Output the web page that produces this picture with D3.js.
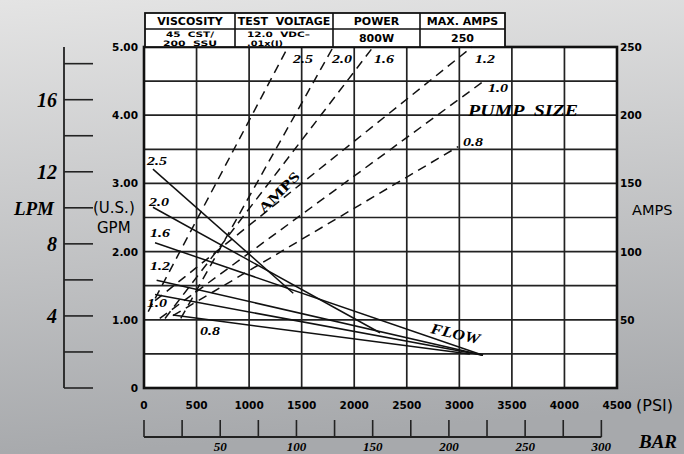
<!DOCTYPE html>
<html>
<head>
<meta charset="utf-8">
<script src="https://cdn.jsdelivr.net/npm/d3@7"></script>
<style>
  body { margin: 0; }
  svg { display: block; }
</style>
</head>
<body>
<div id="chart"></div>
<script>
/* Pump performance chart: flow (GPM) and current (AMPS) against pressure (PSI) */

// one flow line and one amps line per pump size
var pumpSizes = ["2.5", "2.0", "1.6", "1.2", "1.0", "0.8"];

// flow lines, PSI -> GPM
var flowStartPsi = [85, 85, 105, 120, 105, 275];
var flowStartGpm = [3.21, 2.65, 2.13, 1.58, 1.37, 1.07];
var flowEndPsi   = [1420, 2245, 3225, 3225, 3225, 3100];
var flowEndGpm   = [1.39, 0.81, 0.48, 0.48, 0.48, 0.50];

// amps lines (dashed), PSI -> AMPS
var ampStartPsi  = [40, 350, 200, 105, 150, 275];
var ampStartAmps = [56, 51, 51, 64, 51, 53];
var ampEndPsi    = [1370, 1800, 2180, 3120, 3215, 2990];
var ampEndAmps   = [250, 250, 250, 250, 224, 177];

// axes
var psiTicks = d3.range(0, 4501, 500);
var gpmGrid = d3.range(0, 5.01, 0.5);
var gpmTicks = [0, 1, 2, 3, 4, 5];
var gpmLabels = ["0", "1.00", "2.00", "3.00", "4.00", "5.00"];
var ampTicks = [50, 100, 150, 200, 250];
var lpmTicks = d3.range(0, 19, 2);
var lpmLabels = [4, 8, 12, 16];
var barTicks = d3.range(0, 301, 25);
var barLabels = [50, 100, 150, 200, 250, 300];

// spec table
var tableHead = ["VISCOSITY", "TEST  VOLTAGE", "POWER", "MAX. AMPS"];
var tableRow = [["45  CST/", "200  SSU"], ["12.0  VDC\u2013", ".01x(I)"], ["800W"], ["250"]];

var width = 684, height = 454;
var serif = "'Liberation Serif', 'Times New Roman', serif";
var sans = "'DejaVu Sans', sans-serif";

var svg = d3.select("#chart")
    .append("svg")
    .attr("width", width)
    .attr("height", height);

// grey gradient background
var grad = svg.append("defs").append("linearGradient")
    .attr("id", "bg")
    .attr("x1", 0).attr("y1", 0).attr("x2", 0.12).attr("y2", 1);
grad.append("stop").attr("offset", "0%").attr("stop-color", "#e4e4e4");
grad.append("stop").attr("offset", "100%").attr("stop-color", "#a7a9ac");
svg.append("rect").attr("width", width).attr("height", height).attr("fill", "url(#bg)");

// scales
var x = d3.scaleLinear().domain([0, 4500]).range([144, 617]);
var y = d3.scaleLinear().domain([0, 5]).range([388, 47]);
var yAmps = d3.scaleLinear().domain([0, 250]).range([388, 47]);
var yLpm = d3.scaleLinear().domain([0, 5 * 3.785]).range([388, 47]);
var xBar = d3.scaleLinear().domain([0, 300]).range([x(0), x(300 * 14.5038)]);

// plot area + grid
svg.append("rect")
    .attr("x", x(0)).attr("y", y(5))
    .attr("width", x(4500) - x(0)).attr("height", y(0) - y(5))
    .attr("fill", "#fff");

svg.append("g").selectAll("line")
    .data(psiTicks)
    .enter().append("line")
    .attr("x1", function(d) { return x(d); })
    .attr("x2", function(d) { return x(d); })
    .attr("y1", y(0)).attr("y2", y(5))
    .attr("stroke", "#222").attr("stroke-width", 1.7);

svg.append("g").selectAll("line")
    .data(gpmGrid)
    .enter().append("line")
    .attr("x1", x(0)).attr("x2", x(4500))
    .attr("y1", function(d) { return y(d); })
    .attr("y2", function(d) { return y(d); })
    .attr("stroke", "#222").attr("stroke-width", 1.7);

svg.append("rect")
    .attr("x", x(0)).attr("y", y(5))
    .attr("width", x(4500) - x(0)).attr("height", y(0) - y(5))
    .attr("fill", "none").attr("stroke", "#111").attr("stroke-width", 2.6);

// table on top
var colX = [145, 235, 333, 420, 505];
var rowY = [13, 29, y(5)];
var table = svg.append("g");
table.append("rect")
    .attr("x", colX[0]).attr("y", rowY[0])
    .attr("width", colX[4] - colX[0]).attr("height", rowY[2] - rowY[0])
    .attr("fill", "#fff").attr("stroke", "#111").attr("stroke-width", 1.8);
table.append("line")
    .attr("x1", colX[0]).attr("x2", colX[4]).attr("y1", rowY[1]).attr("y2", rowY[1])
    .attr("stroke", "#111").attr("stroke-width", 1.6);
table.selectAll(".col")
    .data(colX.slice(1, 4))
    .enter().append("line")
    .attr("x1", function(d) { return d; }).attr("x2", function(d) { return d; })
    .attr("y1", rowY[0]).attr("y2", rowY[2])
    .attr("stroke", "#111").attr("stroke-width", 1.6);
table.selectAll(".head")
    .data(tableHead)
    .enter().append("text")
    .attr("x", function(d, i) { return (colX[i] + colX[i + 1]) / 2; })
    .attr("y", 25)
    .attr("text-anchor", "middle")
    .style("font-family", sans).style("font-weight", "bold").style("font-size", "11px")
    .style("white-space", "pre")
    .text(function(d) { return d; });

// second row; the two-line cells are squeezed tight like the original
var cellWidths = [[48, 54], [63, 36]];
tableRow.forEach(function(lines, i) {
    var cx = (colX[i] + colX[i + 1]) / 2;
    var anchor = "middle";
    if (i == 1) { cx = 247; anchor = "start"; }
    lines.forEach(function(s, j) {
        var t = table.append("text")
            .attr("x", cx)
            .attr("y", lines.length == 1 ? 42 : 36.5 + j * 9)
            .attr("text-anchor", anchor)
            .style("font-family", sans).style("font-weight", "bold")
            .style("font-size", lines.length == 1 ? "11px" : "7.5px")
            .style("white-space", "pre")
            .text(s);
        if (lines.length > 1) {
            t.attr("textLength", cellWidths[i][j]).attr("lengthAdjust", "spacingAndGlyphs");
        }
    });
});

// flow lines (solid)
svg.append("g").selectAll("line")
    .data(pumpSizes)
    .enter().append("line")
    .attr("x1", function(d, i) { return x(flowStartPsi[i]); })
    .attr("y1", function(d, i) { return y(flowStartGpm[i]); })
    .attr("x2", function(d, i) { return x(flowEndPsi[i]); })
    .attr("y2", function(d, i) { return y(flowEndGpm[i]); })
    .attr("stroke", "#111").attr("stroke-width", 1.5);

// amps lines (dashed)
svg.append("g").selectAll("line")
    .data(pumpSizes)
    .enter().append("line")
    .attr("x1", function(d, i) { return x(ampStartPsi[i]); })
    .attr("y1", function(d, i) { return yAmps(ampStartAmps[i]); })
    .attr("x2", function(d, i) { return x(ampEndPsi[i]); })
    .attr("y2", function(d, i) { return yAmps(ampEndAmps[i]); })
    .attr("stroke", "#111").attr("stroke-width", 1.5)
    .attr("stroke-dasharray", "9,6");

// pump size labels on the lines
function label(t, px, py, size, len) {
    var el = svg.append("text")
        .attr("x", px).attr("y", py)
        .style("font-family", serif).style("font-weight", "bold").style("font-style", "italic")
        .style("font-size", size + "px")
        .text(t);
    if (len) el.attr("textLength", len).attr("lengthAdjust", "spacingAndGlyphs");
    return el;
}
var flowLabelXY = [[147, 165], [149, 206], [150, 237], [150, 270], [147, 307], [200, 335]];
var ampLabelXY = [[293, 63], [332, 63], [374, 63], [475, 63], [488, 92], [463, 146]];
pumpSizes.forEach(function(p, i) {
    label(p, flowLabelXY[i][0], flowLabelXY[i][1], 12, 20);
    label(p, ampLabelXY[i][0], ampLabelXY[i][1], 12, 20);
});
label("PUMP  SIZE", 468, 116, 17, 110).style("white-space", "pre");
label("FLOW", 0, 0, 15, 50)
    .attr("transform", "translate(430,333) rotate(13)");
svg.append("text")
    .attr("transform", "translate(264,214) rotate(-45)")
    .style("font-family", serif).style("font-weight", "bold").style("font-size", "14px")
    .attr("textLength", 52).attr("lengthAdjust", "spacingAndGlyphs")
    .text("AMPS");

// left GPM labels
svg.append("g").selectAll("text")
    .data(gpmTicks)
    .enter().append("text")
    .attr("x", 138)
    .attr("y", function(d) { return y(d) + 4; })
    .attr("text-anchor", "end")
    .style("font-family", sans).style("font-weight", "bold").style("font-size", "10.5px")
    .text(function(d, i) { return gpmLabels[i]; });

// right AMPS labels
svg.append("g").selectAll("text")
    .data(ampTicks)
    .enter().append("text")
    .attr("x", 620)
    .attr("y", function(d) { return yAmps(d) + 4; })
    .style("font-family", sans).style("font-weight", "bold").style("font-size", "10.5px")
    .text(function(d) { return d; });
svg.append("text")
    .attr("x", 632).attr("y", 215)
    .style("font-family", sans).style("font-size", "14.5px")
    .text("AMPS");

// PSI labels
svg.append("g").selectAll("text")
    .data(psiTicks)
    .enter().append("text")
    .attr("x", function(d) { return x(d); })
    .attr("y", 409)
    .attr("text-anchor", "middle")
    .style("font-family", sans).style("font-weight", "bold").style("font-size", "10.5px")
    .text(function(d) { return d; });
svg.append("text")
    .attr("x", 636).attr("y", 411)
    .style("font-family", sans).style("font-size", "16px")
    .text("(PSI)");

// LPM axis on the far left
var lpmAxis = svg.append("g");
lpmAxis.append("line")
    .attr("x1", 64).attr("x2", 64).attr("y1", y(5)).attr("y2", y(0))
    .attr("stroke", "#222").attr("stroke-width", 1.8);
lpmAxis.selectAll(".tick")
    .data(lpmTicks)
    .enter().append("line")
    .attr("x1", 64).attr("x2", 93)
    .attr("y1", function(d) { return yLpm(d); })
    .attr("y2", function(d) { return yLpm(d); })
    .attr("stroke", "#222").attr("stroke-width", 1.6);
lpmAxis.selectAll(".lab")
    .data(lpmLabels)
    .enter().append("text")
    .attr("x", 57)
    .attr("y", function(d) { return yLpm(d) + 7; })
    .attr("text-anchor", "end")
    .style("font-family", serif).style("font-weight", "bold").style("font-style", "italic")
    .style("font-size", "20px")
    .text(function(d) { return d; });
lpmAxis.append("text")
    .attr("x", 54).attr("y", yLpm(10) + 7)
    .attr("text-anchor", "end")
    .style("font-family", serif).style("font-weight", "bold").style("font-style", "italic")
    .style("font-size", "19px")
    .text("LPM");
lpmAxis.append("text")
    .attr("x", 93).attr("y", yLpm(10) + 5)
    .style("font-family", sans).style("font-size", "15px")
    .text("(U.S.)");
lpmAxis.append("text")
    .attr("x", 97).attr("y", yLpm(10) + 25)
    .style("font-family", sans).style("font-size", "15px")
    .text("GPM");

// BAR axis under the PSI labels
var barAxis = svg.append("g");
barAxis.append("line")
    .attr("x1", xBar(0)).attr("x2", xBar(300)).attr("y1", 437).attr("y2", 437)
    .attr("stroke", "#222").attr("stroke-width", 1.8);
barAxis.selectAll(".tick")
    .data(barTicks)
    .enter().append("line")
    .attr("x1", function(d) { return xBar(d); })
    .attr("x2", function(d) { return xBar(d); })
    .attr("y1", 420).attr("y2", 437)
    .attr("stroke", "#222").attr("stroke-width", 1.6);
barAxis.selectAll(".lab")
    .data(barLabels)
    .enter().append("text")
    .attr("x", function(d) { return xBar(d); })
    .attr("y", 451)
    .attr("text-anchor", "middle")
    .style("font-family", serif).style("font-weight", "bold").style("font-style", "italic")
    .style("font-size", "13px")
    .text(function(d) { return d; });
barAxis.append("text")
    .attr("x", 639).attr("y", 448)
    .style("font-family", serif).style("font-weight", "bold").style("font-style", "italic")
    .style("font-size", "19px")
    .text("BAR");
</script>
</body>
</html>
